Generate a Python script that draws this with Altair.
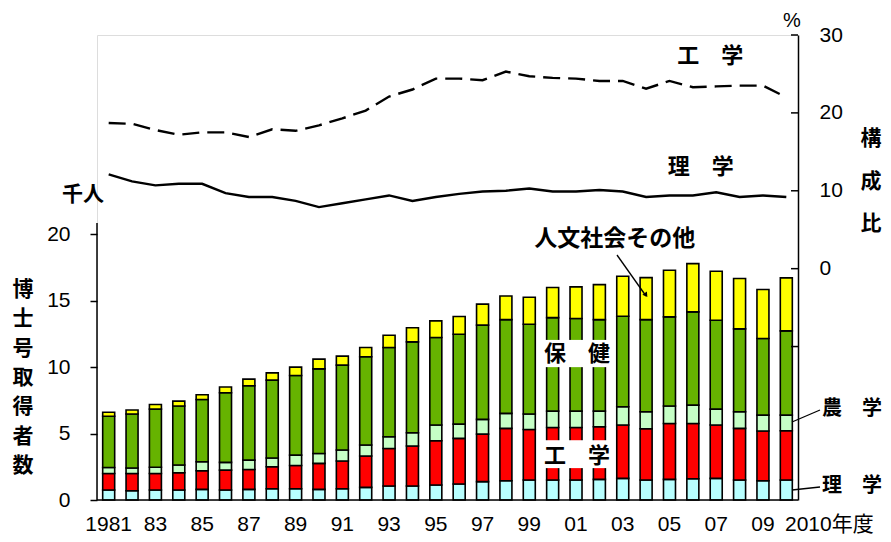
import altair as alt
import pandas as pd

# ---------------- data ----------------
years = list(range(1981, 2011))
categories = ["理学", "工学", "農学", "保健", "人文社会その他"]
colors = ["#b8ffff", "#ff0000", "#c6ffc6", "#66b300", "#ffff00"]

# 博士号取得者数 (千人)
rigaku = [0.75, 0.70, 0.75, 0.75, 0.80, 0.75, 0.80, 0.85, 0.85, 0.80,
          0.85, 0.95, 1.05, 1.05, 1.13, 1.20, 1.38, 1.45, 1.50, 1.50,
          1.50, 1.55, 1.63, 1.50, 1.55, 1.60, 1.63, 1.50, 1.45, 1.50]
kougaku = [1.25, 1.30, 1.25, 1.30, 1.40, 1.50, 1.50, 1.65, 1.75, 1.96,
           2.08, 2.36, 2.83, 3.01, 3.33, 3.44, 3.58, 3.94, 3.81, 3.96,
           3.96, 3.96, 4.01, 3.86, 4.21, 4.16, 4.01, 3.89, 3.74, 3.71]
nougaku = [0.45, 0.41, 0.46, 0.58, 0.68, 0.58, 0.70, 0.66, 0.78, 0.74,
           0.83, 0.83, 0.88, 1.00, 1.18, 1.07, 1.11, 1.13, 1.16, 1.23,
           1.23, 1.18, 1.38, 1.28, 1.31, 1.38, 1.20, 1.25, 1.20, 1.18]
hoken = [3.85, 4.06, 4.38, 4.44, 4.69, 5.24, 5.60, 5.86, 5.99, 6.37,
         6.39, 6.64, 6.72, 6.84, 6.59, 6.77, 7.09, 7.06, 6.76, 7.04,
         6.97, 6.89, 6.81, 6.94, 6.71, 7.02, 6.69, 6.24, 5.77, 6.34]
jinbun = [0.30, 0.30, 0.35, 0.37, 0.35, 0.43, 0.50, 0.55, 0.63, 0.73,
          0.68, 0.70, 0.92, 1.06, 1.25, 1.33, 1.58, 1.78, 2.03, 2.26,
          2.38, 2.63, 3.01, 3.16, 3.51, 3.63, 3.69, 3.79, 3.68, 3.99]

# 構成比 (%)
kougaku_pct = [18.7, 18.6, 17.8, 17.2, 17.5, 17.5, 16.9, 17.9, 17.7, 18.4,
               19.3, 20.3, 22.1, 23.0, 24.4, 24.4, 24.2, 25.3, 24.7, 24.5,
               24.4, 24.1, 24.1, 23.1, 24.1, 23.3, 23.4, 23.5, 23.5, 22.0]
rigaku_pct = [12.1, 11.2, 10.7, 10.9, 10.9, 9.7, 9.2, 9.2, 8.7, 7.9,
              8.4, 8.9, 9.4, 8.7, 9.2, 9.6, 9.9, 10.0, 10.3, 9.9,
              9.9, 10.1, 9.9, 9.2, 9.4, 9.4, 9.8, 9.2, 9.4, 9.2]

# axis tick labels
left_ticks = [0, 5, 10, 15, 20]
right_labels = [0, 10, 20, 30]
right_ticks = [30, 20, 10, 0, -10]
xlab_years = [1981, 1983, 1985, 1987, 1989, 1991, 1993, 1995, 1997, 1999,
              2001, 2003, 2005, 2007, 2009]
xlab_text = ["1981", "83", "85", "87", "89", "91", "93", "95", "97", "99",
             "01", "03", "05", "07", "09"]

# ---------------- tables ----------------
series = [rigaku, kougaku, nougaku, hoken, jinbun]
rows = []
for k, (cat, vals) in enumerate(zip(categories, series)):
    for y, v in zip(years, vals):
        rows.append({"year": y, "cat": cat, "value": v, "ord": k})
bars_df = pd.DataFrame(rows)

NUMFONT = "Liberation Sans"
JPFONT = "Noto Sans CJK JP"
MIXFONT = "Liberation Sans, Noto Sans CJK JP"
JPW = "bold"

lscale = alt.Scale(domain=[0, 35], nice=False, zero=False)
rscale = alt.Scale(domain=[-29.7, 30], nice=False, zero=False)
xscale = alt.Scale(domain=years, paddingInner=0.48, paddingOuter=0.24)
x_plain = alt.X("year:O", scale=xscale, axis=None)

# ---------------- 千人 (left scale) ----------------
bars = alt.Chart(bars_df).mark_bar(stroke="black", strokeWidth=1.6, size=12).encode(
    x=x_plain,
    y=alt.Y("value:Q", stack="zero", scale=lscale, axis=alt.Axis(
        orient="left", values=left_ticks, title="", domain=False, tickSize=7,
        tickWidth=1.5, tickColor="black", labelPadding=20, labelFont=NUMFONT,
        labelFontSize=21, labelColor="black", grid=False)),
    color=alt.Color("cat:N", scale=alt.Scale(domain=categories, range=colors), legend=None),
    order=alt.Order("ord:Q"),
)

left_line = alt.Chart(pd.DataFrame({"a": [0], "b": [20.85]})).mark_rule(
    color="black", strokeWidth=1.5).encode(
    x=alt.value(0), y=alt.Y("a:Q", scale=lscale, axis=None), y2="b:Q")

base_line = alt.Chart(pd.DataFrame({"a": [0]})).mark_rule(
    color="black", strokeWidth=1.5).encode(
    x=alt.value(0), x2=alt.value(701), y=alt.Y("a:Q", scale=lscale, axis=None))

xlabels = alt.Chart(pd.DataFrame({"year": xlab_years, "t": xlab_text})).mark_text(
    font=NUMFONT, fontSize=21, color="black", baseline="middle", align="center").encode(
    x=x_plain, y=alt.value(490), text="t:N")

box_df = pd.DataFrame({"year": [2000, 2001, 2002, 2000, 2001, 2002],
                       "lo": [10.0, 10.0, 10.0, 2.4, 2.4, 2.4],
                       "hi": [12.05, 12.05, 12.05, 4.5, 4.5, 4.5]})
white_boxes = alt.Chart(box_df).mark_bar(color="white", size=17).encode(
    x=x_plain, y=alt.Y("lo:Q", scale=lscale, axis=None), y2="hi:Q")


def lab_left(t, year, v, dx=0, size=22):
    return alt.Chart(pd.DataFrame({"year": [year], "v": [v], "t": [t]})).mark_text(
        font=JPFONT, fontSize=size, fontWeight=JPW, color="black", baseline="middle",
        align="center", dx=dx).encode(
        x=x_plain, y=alt.Y("v:Q", scale=lscale, axis=None), text="t:N")


def lab_right(t, year, v, dx=0, size=22):
    return alt.Chart(pd.DataFrame({"year": [year], "v": [v], "t": [t]})).mark_text(
        font=JPFONT, fontSize=size, fontWeight=JPW, color="black", baseline="middle",
        align="center", dx=dx).encode(
        x=x_plain, y=alt.Y("v:Q", scale=rscale, axis=None), text="t:N")


# ---------------- 構成比 (right scale) ----------------
line_k = alt.Chart(pd.DataFrame({"year": years, "pct": kougaku_pct})).mark_line(
    color="black", strokeWidth=2.4, strokeDash=[17, 8]).encode(
    x=x_plain,
    y=alt.Y("pct:Q", scale=rscale, axis=alt.Axis(
        orient="right", values=right_labels, title="", ticks=False,
        labelPadding=21, labelFont=NUMFONT, labelFontSize=21, labelColor="black",
        domainColor="black", domainWidth=1.5, grid=False)))
line_r = alt.Chart(pd.DataFrame({"year": years, "pct": rigaku_pct})).mark_line(
    color="black", strokeWidth=2.4).encode(
    x=x_plain, y=alt.Y("pct:Q", scale=rscale, axis=None))

rtick = alt.Chart(pd.DataFrame({"t": right_ticks})).mark_rule(color="black", strokeWidth=1.5).encode(
    y=alt.Y("t:Q", scale=rscale, axis=None), x=alt.value(694), x2=alt.value(701))


# ---------------- annotations (pixel positions) ----------------
def txt(s, x, y, size=21, align="center", font=JPFONT, lh=None, weight=JPW):
    kw = dict(font=font, fontSize=size, fontWeight=weight, color="black", align=align,
              baseline="middle", text=s)
    if lh is not None:
        kw["lineBreak"] = "\n"
        kw["lineHeight"] = lh
    return alt.Chart(pd.DataFrame({"d": [0]})).mark_text(**kw).encode(
        x=alt.value(x), y=alt.value(y))


def seg(x1, y1, x2, y2):
    return alt.Chart(pd.DataFrame({"d": [0]})).mark_rule(color="black", strokeWidth=1.3).encode(
        x=alt.value(x1), y=alt.value(y1), x2=alt.value(x2), y2=alt.value(y2))


layers = [
    bars, white_boxes, left_line, base_line, xlabels,
    lab_left("保　健", 2001, 10.98, dx=1),
    lab_left("工　学", 2001, 3.3, dx=1),
    lab_left("人文社会その他", 2003, 19.64, dx=-8, size=23),
    line_k, line_r, rtick,
    lab_right("工　学", 2007, 27.3, dx=-6),
    lab_right("理　学", 2006, 13.06, dx=8),
    txt("%", 695, -14, size=20, font=NUMFONT, weight="normal"),
    txt("構\n成\n比", 774, 104, lh=42.5),
    txt("千人", -14, 160),
    txt("博\n士\n号\n取\n得\n者\n数", -74, 255, lh=29.3),
    txt("2010年度", 688, 490, align="left", font=MIXFONT, weight="normal"),
    txt("農　学", 725, 374, size=20, align="left"),
    txt("理　学", 725, 451, size=20, align="left"),
    seg(723, 375, 695, 387),
    seg(723, 452, 695, 455),
    seg(520, 220, 549, 261),
    alt.Chart(pd.DataFrame({"d": [0]})).mark_point(
        shape="triangle-up", filled=True, color="black", size=30, angle=145, opacity=1).encode(
        x=alt.value(549), y=alt.value(260)),
]

chart = alt.layer(*layers).resolve_scale(y="independent").properties(
    width=701, height=465,
    autosize=alt.AutoSizeParams(type="none"),
    padding={"left": 89, "top": 27, "right": 85, "bottom": 34},
).configure_view(strokeWidth=0).configure(background="white")

chart.save("out.html", embed_options={"renderer": "svg", "actions": False})
